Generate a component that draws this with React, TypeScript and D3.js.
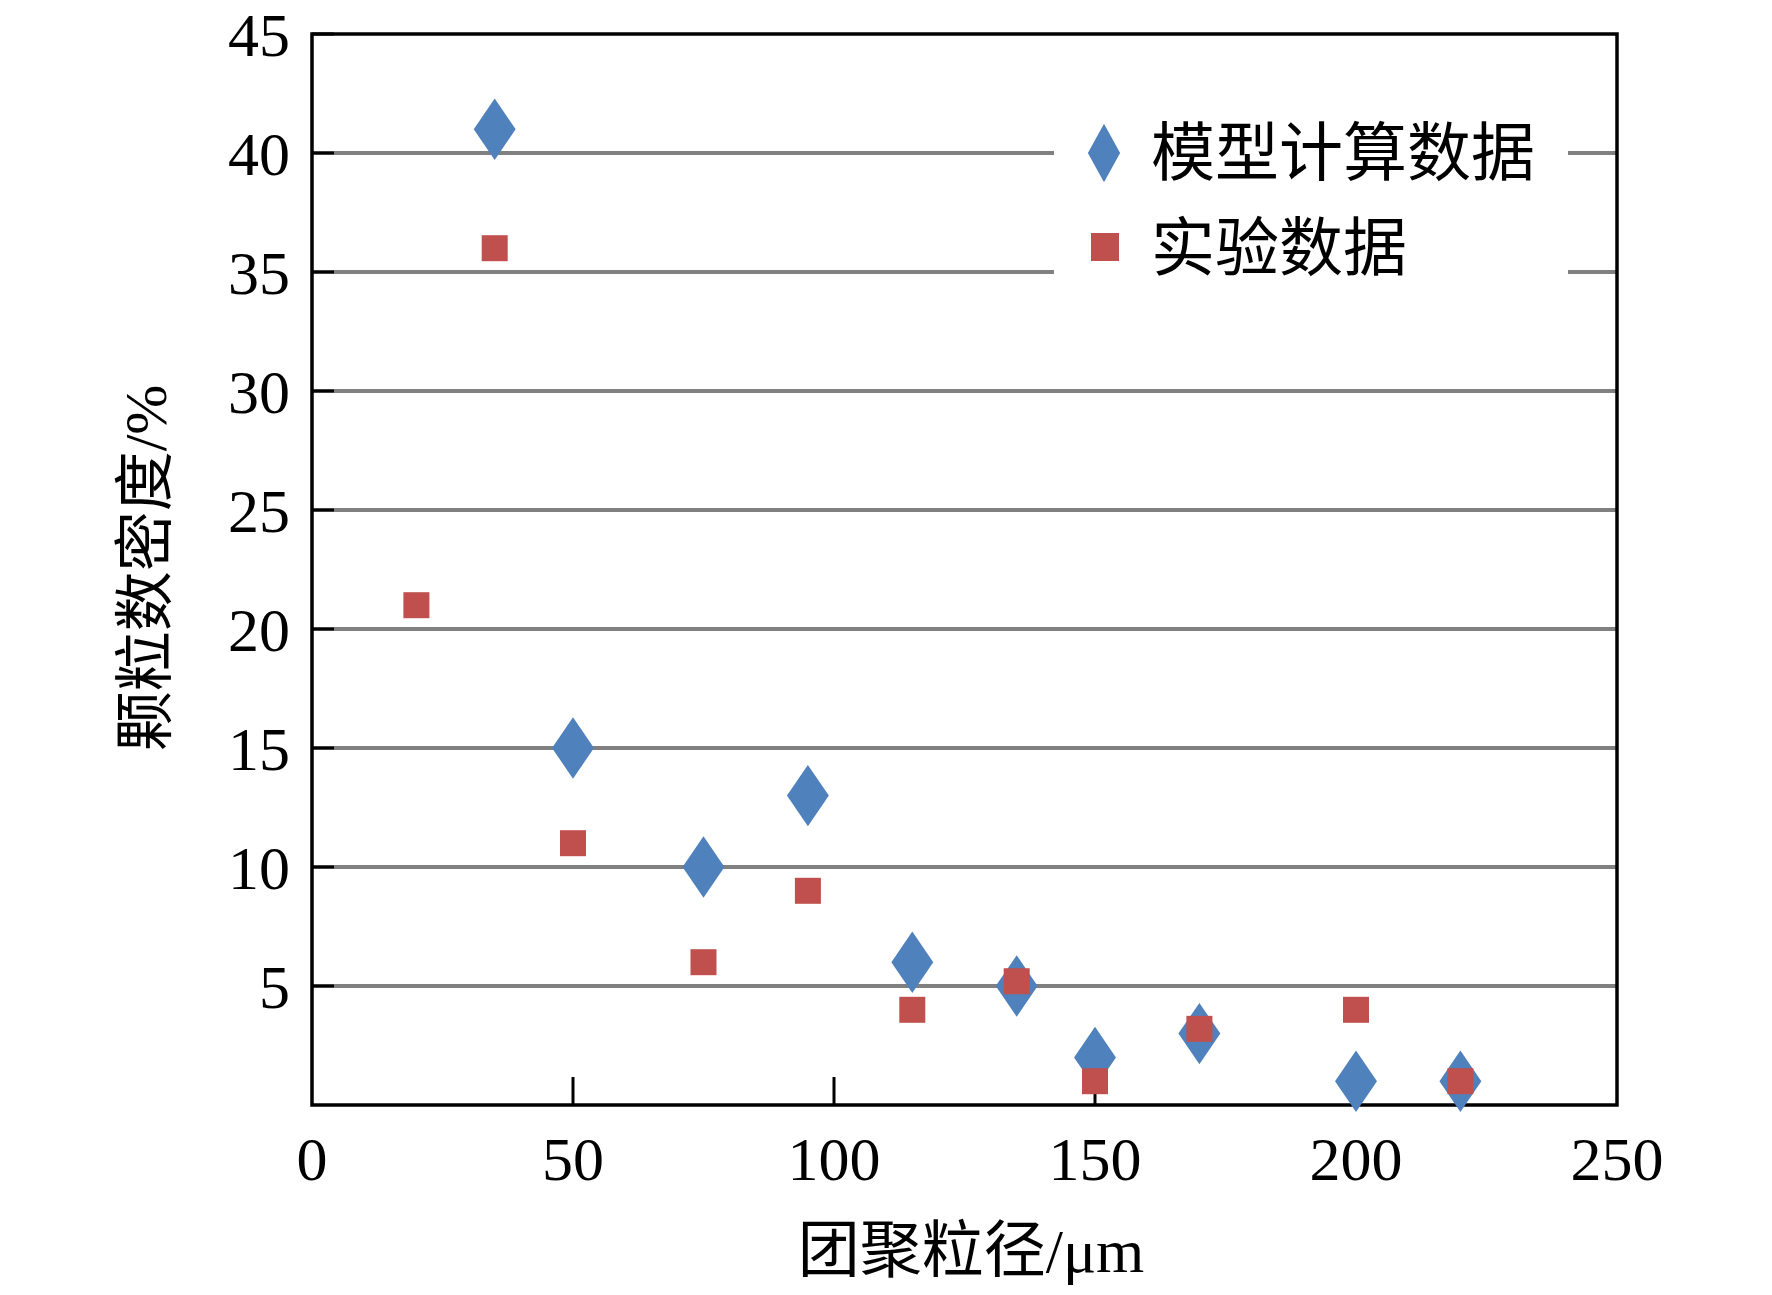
import * as d3 from "d3"

const modelX = [35, 50, 75, 95, 115, 135, 150, 170, 200, 220]
const modelY = [41, 15, 10, 13, 6, 5, 2, 3, 1, 1]
const expX = [20, 35, 50, 75, 95, 115, 135, 150, 170, 200, 220]
const expY = [21, 36, 11, 6, 9, 4, 5.2, 1, 3.2, 4, 1]
const xTicks = [0, 50, 100, 150, 200, 250]
const yTicks = [5, 10, 15, 20, 25, 30, 35, 40, 45]
const gridTicks = [5, 10, 15, 20, 25, 30, 35, 40]
const legendLabels = ["模型计算数据", "实验数据"]

const W = 1772, H = 1295
const L = 312, R = 1617, T = 34, B = 1105
const serif = "'Liberation Serif', 'Times New Roman', serif"
const cjk = "'Noto Sans CJK SC', sans-serif"

export default function App() {
  const x = d3.scaleLinear().domain([0, 250]).range([L, R])
  const y = d3.scaleLinear().domain([0, 45]).range([B, T])
  const diamond = d3.symbol().type(d3.symbolDiamond).size(900)()
  return (
    <svg width={W} height={H} style={{ position: "fixed", left: 0, top: 0, background: "#fff" }}>
      {gridTicks.map(t => (
        <line key={t} x1={L} x2={R} y1={y(t)} y2={y(t)} stroke="#808080" strokeWidth={4} />
      ))}
      <rect x={1054} y={114} width={514} height={187} fill="#fff" />
      {yTicks.map(t => (
        <g key={t}>
          <line x1={L} x2={L + 22} y1={y(t)} y2={y(t)} stroke="#000" strokeWidth={3} />
          <text x={290} y={y(t)} dy="0.35em" textAnchor="end" fontFamily={serif} fontSize={62}>{t}</text>
        </g>
      ))}
      {xTicks.map(t => (
        <g key={t}>
          {t > 0 && t < 250 && <line x1={x(t)} x2={x(t)} y1={B} y2={B - 28} stroke="#000" strokeWidth={3} />}
          <text x={x(t)} y={1180} textAnchor="middle" fontFamily={serif} fontSize={62}>{t}</text>
        </g>
      ))}
      <rect x={L} y={T} width={R - L} height={B - T} fill="none" stroke="#000" strokeWidth={3.5} />
      {modelX.map((v, i) => (
        <path key={i} d={diamond!} transform={`translate(${x(v)},${y(modelY[i])}) scale(1.3,1.1)`} fill="#4f81bd" />
      ))}
      {expX.map((v, i) => (
        <rect key={i} x={x(v) - 13} y={y(expY[i]) - 13} width={26} height={26} fill="#c0504d" />
      ))}
      <path d={diamond!} transform="translate(1104,153) scale(1.0,1.05)" fill="#4f81bd" />
      <rect x={1091} y={233} width={28} height={28} fill="#c0504d" />
      <text x={1151} y={153} dy="0.35em" fontFamily={cjk} fontSize={64}>{legendLabels[0]}</text>
      <text x={1151} y={248} dy="0.35em" fontFamily={cjk} fontSize={64}>{legendLabels[1]}</text>
      <text transform="translate(145,568) rotate(-90)" textAnchor="middle" dy="0.35em" fontSize={60}>
        <tspan fontFamily={cjk}>颗粒数密度</tspan><tspan fontFamily={serif}>/%</tspan>
      </text>
      <text x={971} y={1250} textAnchor="middle" dy="0.35em" fontSize={62}>
        <tspan fontFamily={cjk}>团聚粒径</tspan><tspan fontFamily={serif}>/μm</tspan>
      </text>
    </svg>
  )
}
